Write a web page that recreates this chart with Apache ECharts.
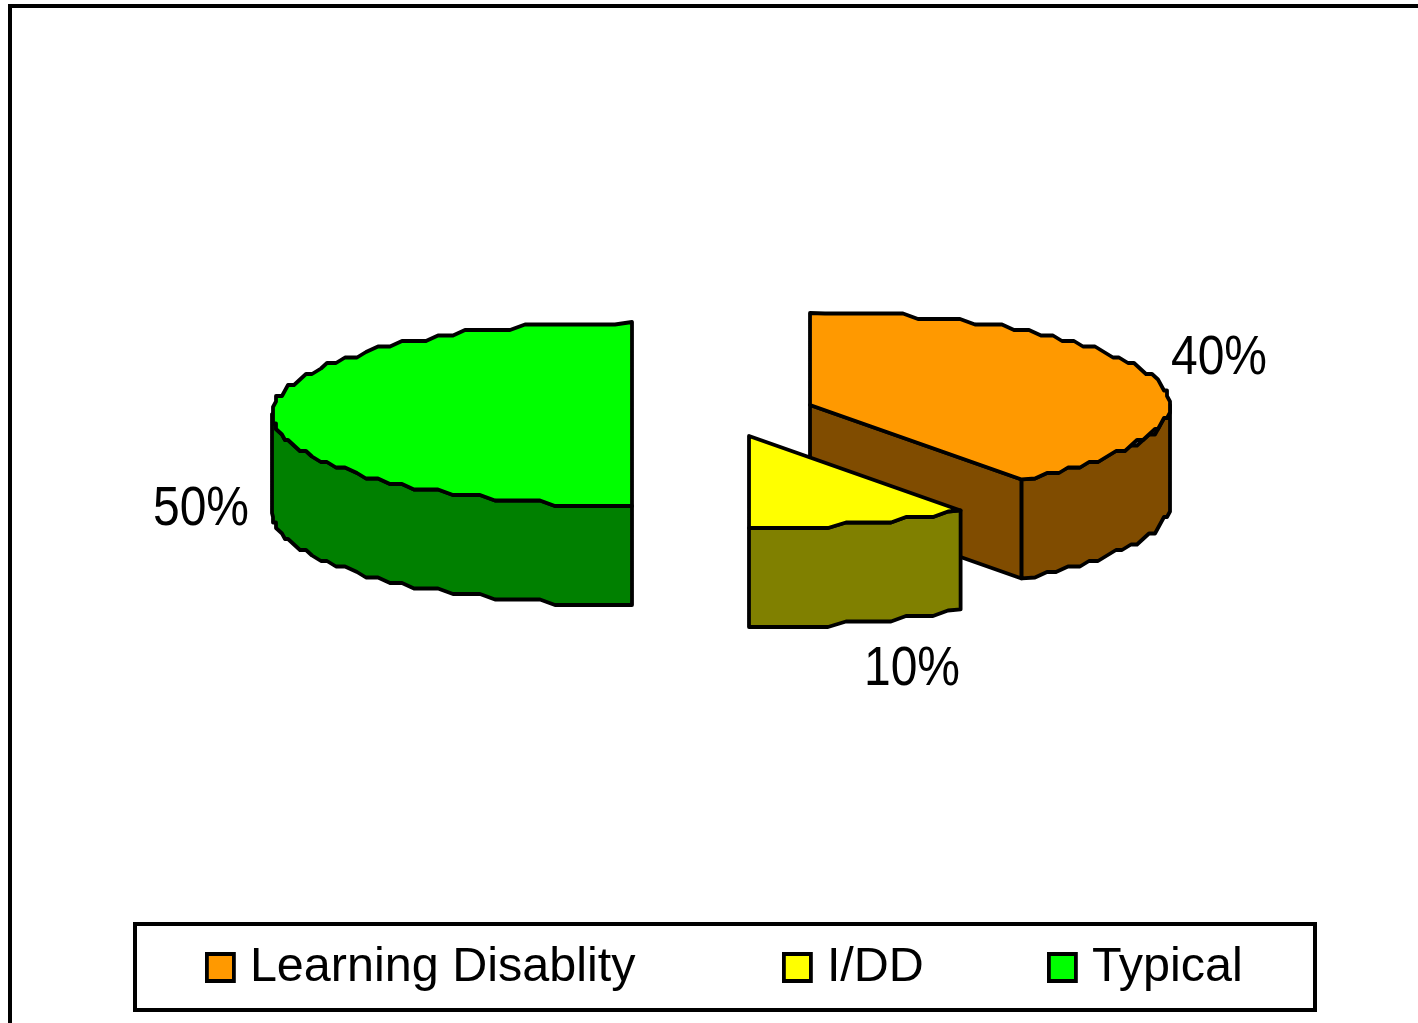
<!DOCTYPE html>
<html>
<head>
<meta charset="utf-8">
<style>html,body{margin:0;padding:0;background:#fff;overflow:hidden}#c{width:1418px;height:1023px}</style>
<script src="https://cdn.jsdelivr.net/npm/echarts@6/dist/echarts.min.js"></script>
</head>
<body>
<div id="c"></div>
<script>
// Data
const categories = ['Learning Disablity', 'I/DD', 'Typical'];
const percents = [40, 10, 50];

// Style
const topColors = ['#FF9900', '#FFFF00', '#00FF00'];
const wallColors = ['#804C00', '#808000', '#008000'];

// Layout of the exploded slices (tilted ellipse radii, wall depth, per-slice pie centre, label centre)
const RX = 360, RY = 92, DEPTH = 99;
const sliceCenters = [[810, 405], [749, 436], [632, 414]];
const labelCenters = [[1219, 359], [912, 670], [201, 510]];
const legendLefts = [206, 783, 1048];
const FONT = '48px "Liberation Sans", Arial, sans-serif';

const total = percents.reduce((a, b) => a + b, 0);
const rad = d => d * Math.PI / 180;

// Arc points, snapped to a coarse grid to reproduce the jagged low-res outline
function arc(cx, cy, a0, a1) {
  const pts = [], n = Math.max(2, Math.round((a1 - a0) / 2.5));
  for (let i = 0; i <= n; i++) {
    const a = rad(a0 + (a1 - a0) * i / n);
    let x = cx + RX * Math.sin(a), y = cy - RY * Math.cos(a);
    if (i > 0 && i < n) { y = Math.round(y / 5.5) * 5.5; x = Math.round(x / 3) * 3; }
    pts.push([x, y]);
  }
  return pts;
}
const down = pts => pts.map(p => [p[0], p[1] + DEPTH]);
const stroke = {stroke: '#000', lineWidth: 3.8, lineJoin: 'round'};
const poly = (points, fill) => ({type: 'polygon', shape: {points}, style: Object.assign({fill}, stroke)});

function renderSlice(idx) {
  return function (params, api) {
    const val = api.value(0);
    const start = percents.slice(0, idx).reduce((a, b) => a + b, 0) / total * 360;
    const end = start + val / total * 360;
    const [cx, cy] = sliceCenters[idx];
    const topArc = arc(cx, cy, start, end);
    const children = [];
    // Walls that face the viewer
    const wStart = Math.max(start, 90), wEnd = Math.min(end, 270);
    // Cut face visible when the slice ends on the right-hand front
    if (end < 180) {
      const e = topArc[topArc.length - 1];
      children.push(poly([[cx, cy], e, [e[0], e[1] + DEPTH], [cx, cy + DEPTH]], wallColors[idx]));
    }
    if (wEnd > wStart) {
      const a = arc(cx, cy, wStart, wEnd);
      children.push(poly(a.concat(down(a).reverse()), wallColors[idx]));
    }
    children.push(poly([[cx, cy]].concat(topArc), topColors[idx]));
    const [lx, ly] = labelCenters[idx];
    children.push({
      type: 'text', x: lx, y: ly, scaleY: 1.15,
      style: {text: val + '%', x: 0, y: 0, font: FONT, fill: '#000', align: 'center', verticalAlign: 'middle'}
    });
    return {type: 'group', children};
  };
}

// Draw order: green at the back, then orange, yellow in front
const drawOrder = {0: 2, 1: 3, 2: 1};
const series = categories.map((name, i) => ({
  type: 'custom', name, coordinateSystem: 'none', silent: true, animation: false,
  z: drawOrder[i], itemStyle: {color: topColors[i]},
  data: [[percents[i]]], encode: {value: 0}, renderItem: renderSlice(i)
}));

const legends = categories.map((name, i) => ({
  data: [name], left: legendLefts[i] - 1, top: 943, orient: 'horizontal', padding: 0,
  icon: 'rect', itemWidth: 27, itemHeight: 27, selectedMode: false,
  itemStyle: {borderColor: '#000', borderWidth: 3.8},
  textStyle: {fontFamily: '"Liberation Sans", Arial, sans-serif', fontSize: 48.5, color: '#000', padding: [0, 0, 0, 11]}
}));

const chart = echarts.init(document.getElementById('c'), null, {renderer: 'canvas'});
chart.setOption({
  animation: false, backgroundColor: '#fff',
  legend: legends,
  series,
  graphic: [
    {type: 'rect', z: -1, shape: {x: 10, y: 6, width: 1600, height: 1300}, style: {fill: '#fff', stroke: '#000', lineWidth: 4}},
    {type: 'rect', z: -1, shape: {x: 135, y: 924, width: 1180, height: 86}, style: {fill: '#fff', stroke: '#000', lineWidth: 4}}
  ]
});
</script>
</body>
</html>
